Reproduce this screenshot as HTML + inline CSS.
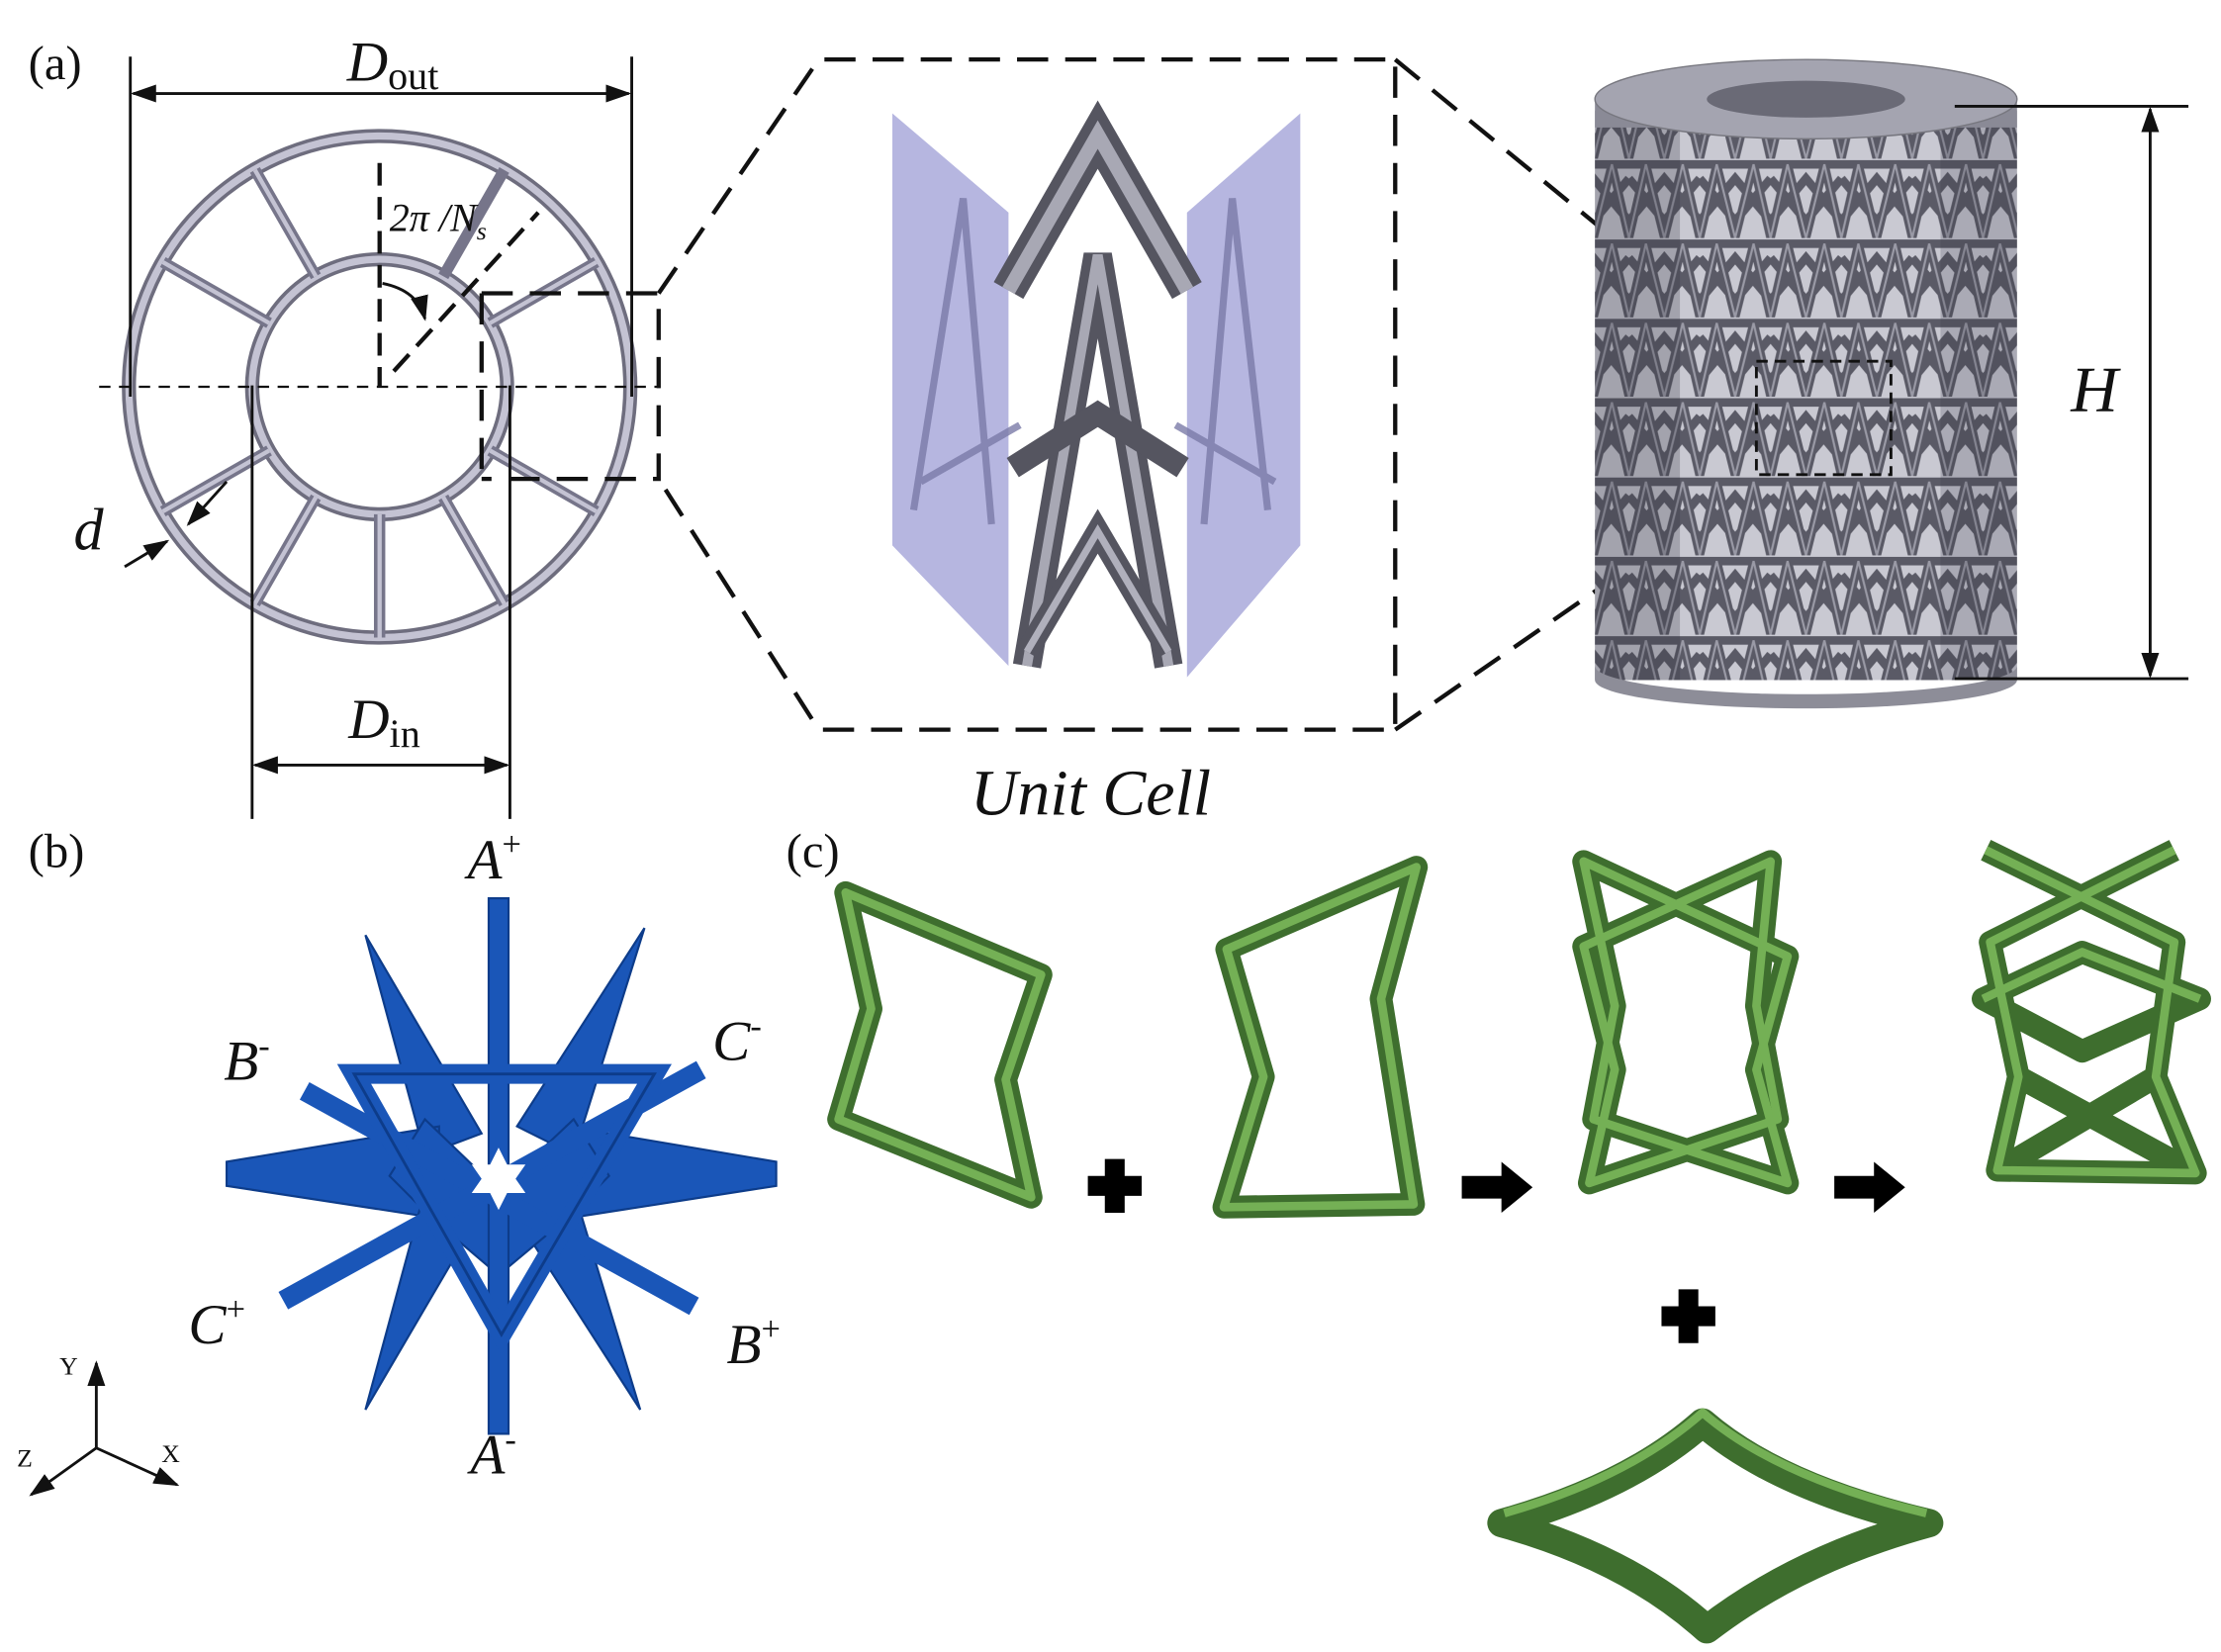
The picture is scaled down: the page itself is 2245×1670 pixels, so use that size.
<!DOCTYPE html>
<html><head><meta charset="utf-8"><style>
html,body{margin:0;padding:0;background:#fff;}
svg{display:block;}
text{font-family:"Liberation Serif",serif;fill:#111;}
</style></head><body>
<svg width="2245" height="1670" viewBox="0 0 1568 1166" preserveAspectRatio="none">
<defs>
<marker id="ar" viewBox="0 0 10 10" refX="9" refY="5" markerWidth="9" markerHeight="9" orient="auto-start-reverse"><path d="M0,1.5 L10,5 L0,8.5z" fill="#111"/></marker>
<pattern id="lat" width="50" height="56" patternUnits="userSpaceOnUse"><rect width="50" height="56" fill="#c9c9d2"/><path d="M0,56 L12,4 L25,56 L38,4 L50,56 M0,14 L25,44 L50,14 M0,44 L25,14 L50,44 M0,4 L50,4" stroke="#5a5a66" stroke-width="6" fill="none"/><path d="M0,56 L12,4 L25,56 L38,4 L50,56" stroke="#9a9aa6" stroke-width="1.5" fill="none"/></pattern>
</defs>

<!-- (a) -->
<g>
<text x="20" y="56" font-size="34">(a)</text>
<g fill="none">
<circle cx="268" cy="273" r="177" stroke="#6e6d7e" stroke-width="10"/>
<circle cx="268" cy="273" r="177" stroke="#c4c3d3" stroke-width="5"/>
<circle cx="268" cy="273" r="90" stroke="#6e6d7e" stroke-width="10"/>
<circle cx="268" cy="273" r="90" stroke="#c4c3d3" stroke-width="5"/>
<g stroke="#76758a" stroke-width="8">
<line x1="268" y1="363" x2="268" y2="450"/>
<line x1="313" y1="351" x2="356" y2="426"/>
<line x1="223" y1="351" x2="180" y2="426"/>
<line x1="346" y1="318" x2="421" y2="361"/>
<line x1="190" y1="318" x2="115" y2="361"/>
<line x1="346" y1="228" x2="421" y2="185"/>
<line x1="190" y1="228" x2="115" y2="185"/>
<line x1="313" y1="195" x2="356" y2="120"/>
<line x1="223" y1="195" x2="180" y2="120"/>
</g>
<g stroke="#c4c3d3" stroke-width="3">
<line x1="268" y1="363" x2="268" y2="450"/>
<line x1="313" y1="351" x2="356" y2="426"/>
<line x1="223" y1="351" x2="180" y2="426"/>
<line x1="346" y1="318" x2="421" y2="361"/>
<line x1="190" y1="318" x2="115" y2="361"/>
<line x1="346" y1="228" x2="421" y2="185"/>
<line x1="190" y1="228" x2="115" y2="185"/>
<line x1="223" y1="195" x2="180" y2="120"/>
</g>
</g>
<g stroke="#111" stroke-width="2" fill="none">
<line x1="92" y1="40" x2="92" y2="280"/>
<line x1="446" y1="40" x2="446" y2="280"/>
<line x1="94" y1="66" x2="444" y2="66" marker-start="url(#ar)" marker-end="url(#ar)"/>
<line x1="178" y1="272" x2="178" y2="578"/>
<line x1="360" y1="272" x2="360" y2="578"/>
<line x1="180" y1="540" x2="358" y2="540" marker-start="url(#ar)" marker-end="url(#ar)"/>
<line x1="70" y1="273" x2="466" y2="273" stroke-dasharray="8,6" stroke-width="1.5"/>
<line x1="268" y1="115" x2="268" y2="273" stroke-dasharray="16,8" stroke-width="3"/>
<line x1="278" y1="262" x2="380" y2="150" stroke-dasharray="16,8" stroke-width="3"/>
<path d="M270,200 Q295,205 300,225" marker-end="url(#ar)"/>
<line x1="88" y1="400" x2="118" y2="382" marker-end="url(#ar)"/>
<line x1="160" y1="340" x2="133" y2="370" marker-end="url(#ar)"/>
</g>
<text x="245" y="57" font-size="40" font-style="italic">D<tspan font-size="28" font-style="normal" dy="6">out</tspan></text>
<text x="246" y="521" font-size="40" font-style="italic">D<tspan font-size="28" font-style="normal" dy="6">in</tspan></text>
<text x="275" y="163" font-size="28" font-style="italic">2π /N<tspan font-size="18" dy="6">s</tspan></text>
<text x="52" y="388" font-size="42" font-style="italic">d</text>
<g stroke="#111" stroke-width="3" fill="none" stroke-dasharray="22,12">
<path d="M340,207 L465,207 L465,338 L340,338 M340,207 L340,338"/>
<path d="M465,207 L578,42 L985,42 L985,515 L578,515 L465,338"/>
<path d="M985,42 L1245,255 M985,515 L1245,335"/>
</g>
</g>

<!-- unit cell -->
<g>
<polygon points="630,80 712,150 712,470 630,385" fill="#8f8fd0" fill-opacity="0.65"/>
<polygon points="918,80 838,150 838,478 918,385" fill="#8f8fd0" fill-opacity="0.65"/>
<g fill="none" stroke="#7a7aa8" stroke-width="5" opacity="0.8">
<path d="M645,360 L680,140 L700,370 M895,360 L870,140 L850,370 M650,340 L720,300 M900,340 L830,300"/>
</g>
<g fill="none" stroke-linejoin="miter">
<path d="M712,205 L775,95 L838,205" stroke="#555560" stroke-width="24"/>
<path d="M712,205 L775,95 L838,205" stroke="#a8a8b4" stroke-width="10"/>
<path d="M725,470 L775,180 L825,470" stroke="#555560" stroke-width="20"/>
<path d="M725,470 L775,180 L825,470" stroke="#a8a8b4" stroke-width="7"/>
<path d="M715,330 L775,292 L835,330" stroke="#555560" stroke-width="16"/>
<path d="M725,460 L775,375 L825,460" stroke="#555560" stroke-width="16"/>
<path d="M725,460 L775,375 L825,460" stroke="#b0b0bc" stroke-width="5"/>
</g>
<text x="770" y="575" font-size="46" font-style="italic" text-anchor="middle" font-family="Liberation Sans, sans-serif" fill="#222">Unit Cell</text>
</g>

<!-- cylinder -->
<g>
<rect x="1126" y="78" width="298" height="402" fill="url(#lat)"/>
<rect x="1126" y="78" width="60" height="402" fill="#333340" opacity="0.25"/>
<rect x="1370" y="78" width="54" height="402" fill="#333340" opacity="0.2"/>
<path d="M1126,470 A149,20 0 0 0 1424,470 L1424,480 A149,20 0 0 1 1126,480 Z" fill="#8d8d98"/>
<rect x="1126" y="70" width="298" height="20" fill="#8a8a96"/>
<ellipse cx="1275" cy="70" rx="149" ry="28" fill="#a4a4b0" stroke="#77777f"/>
<ellipse cx="1275" cy="70" rx="70" ry="13" fill="#6a6a76"/>
<rect x="1240" y="255" width="95" height="80" fill="none" stroke="#111" stroke-width="2" stroke-dasharray="8,5"/>
</g>
<g stroke="#111" stroke-width="2" fill="none">
<line x1="1380" y1="75" x2="1545" y2="75"/>
<line x1="1380" y1="479" x2="1545" y2="479"/>
<line x1="1518" y1="77" x2="1518" y2="477" marker-start="url(#ar)" marker-end="url(#ar)"/>
</g>
<text x="1462" y="290" font-size="46" font-style="italic">H</text>

<!-- (b) -->
<g>
<text x="20" y="612" font-size="34">(b)</text>
<g fill="#1a56b8" stroke="#0d3c8a" stroke-width="1.5">
<polygon points="258,660 340,800 300,815"/>
<polygon points="455,655 405,815 365,795"/>
<polygon points="160,820 160,837 310,860 310,795"/>
<polygon points="548,820 548,837 400,860 400,795"/>
<polygon points="258,995 340,855 300,840"/>
<polygon points="452,995 405,840 365,860"/>
<polygon points="300,790 352,840 405,790 430,830 400,860 352,900 305,860 275,830"/>
<rect x="345" y="634" width="14" height="378"/>
<line x1="215" y1="770" x2="490" y2="922" stroke="#1a56b8" stroke-width="14"/>
<line x1="495" y1="755" x2="200" y2="918" stroke="#1a56b8" stroke-width="14"/>
<polygon points="250,758 462,758 354,942 " fill="none" stroke="#1a56b8" stroke-width="14"/>
<polygon points="250,758 462,758 354,942" fill="none" stroke="#0d3c8a" stroke-width="2"/>
<path d="M352,810 l6,12 13,0 -7,10 7,10 -13,0 -6,12 -6,-12 -13,0 7,-10 -7,-10 13,0z" fill="#fff" stroke="none"/>
</g>
<g font-size="40" font-style="italic">
<text x="330" y="620">A<tspan font-size="24" dy="-16" font-style="normal">+</tspan></text>
<text x="332" y="1040">A<tspan font-size="24" dy="-16" font-style="normal">-</tspan></text>
<text x="158" y="762">B<tspan font-size="24" dy="-16" font-style="normal">-</tspan></text>
<text x="513" y="962">B<tspan font-size="24" dy="-16" font-style="normal">+</tspan></text>
<text x="503" y="748">C<tspan font-size="24" dy="-16" font-style="normal">-</tspan></text>
<text x="133" y="948">C<tspan font-size="24" dy="-16" font-style="normal">+</tspan></text>
</g>
<g stroke="#111" stroke-width="2" fill="none">
<line x1="68" y1="1022" x2="68" y2="962" marker-end="url(#ar)"/>
<line x1="68" y1="1022" x2="125" y2="1048" marker-end="url(#ar)"/>
<line x1="68" y1="1022" x2="22" y2="1055" marker-end="url(#ar)"/>
</g>
<g font-size="18"><text x="42" y="970">Y</text><text x="114" y="1032">X</text><text x="12" y="1035">Z</text></g>
</g>

<!-- (c) -->
<g>
<text x="555" y="612" font-size="34">(c)</text>
<g fill="none" stroke-linejoin="round">
<g stroke="#3e6e2e" stroke-width="16">
<path d="M597,630 L735,688 L710,762 L728,845 L592,790 L615,712 Z"/>
<path d="M866,670 L1000,612 L975,705 L998,850 L864,852 L892,760 Z"/>
<path d="M1118,608 L1262,675 L1240,755 L1262,835 L1125,790 L1140,710 Z"/>
<path d="M1250,608 L1118,668 L1140,755 L1122,835 L1255,790 L1240,710 Z"/>
<path d="M1402,600 L1535,665 L1522,760 L1550,828 L1410,826 L1425,760 L1405,665 L1535,600"/>
<path d="M1400,705 L1470,672 L1553,705 L1470,742 Z"/>
<path d="M1425,760 L1550,828 M1522,760 L1410,826"/>
<path d="M1060,1075 Q1150,1050 1202,1004 Q1255,1050 1362,1075 Q1270,1100 1205,1150 Q1150,1100 1060,1075 Z" stroke-width="20"/>
</g>
<g stroke="#74b055" stroke-width="6">
<path d="M597,630 L735,688 L710,762 L728,845 L592,790 L615,712 Z"/>
<path d="M866,670 L1000,612 L975,705 L998,850 L864,852 L892,760 Z"/>
<path d="M1118,608 L1262,675 L1240,755 L1262,835 L1125,790 L1140,710 Z"/>
<path d="M1250,608 L1118,668 L1140,755 L1122,835 L1255,790 L1240,710 Z"/>
<path d="M1402,600 L1535,665 L1522,760 L1550,828 L1410,826 L1425,760 L1405,665 L1535,600"/>
<path d="M1400,705 L1470,672 L1553,705"/>
<path d="M1062,1068 Q1150,1043 1202,997 Q1255,1043 1360,1068" stroke-width="6"/>
</g>
</g>
<g fill="#000">
<path d="M780,818 h14 v12 h12 v14 h-12 v12 h-14 v-12 h-12 v-14 h12z"/>
<path d="M1185,910 h14 v12 h12 v14 h-12 v12 h-14 v-12 h-12 v-14 h12z"/>
<path d="M1032,830 h28 v-10 l22,18 -22,18 v-10 h-28z"/>
<path d="M1295,830 h28 v-10 l22,18 -22,18 v-10 h-28z"/>
</g>
</g>
</svg>
</body></html>
